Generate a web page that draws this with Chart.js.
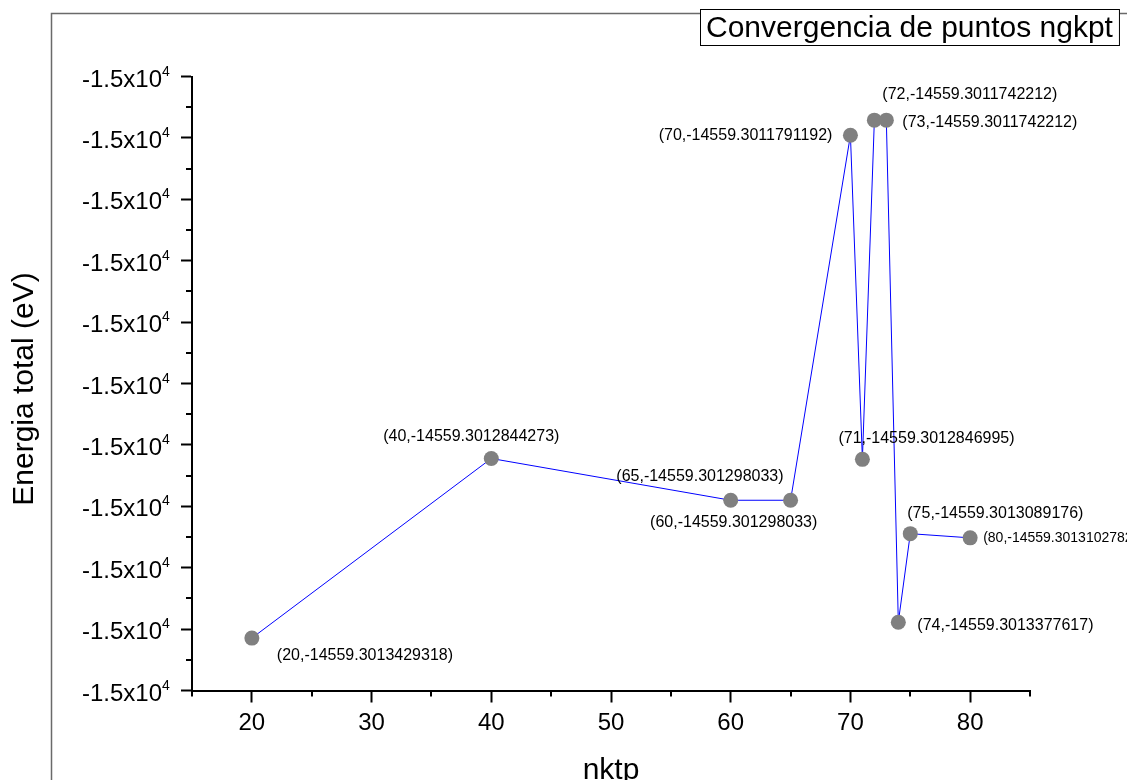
<!DOCTYPE html>
<html>
<head>
<meta charset="utf-8">
<script src="https://cdn.jsdelivr.net/npm/chart.js@4.4.1/dist/chart.umd.min.js"></script>
<style>
  html, body { margin: 0; padding: 0; background: #fff; }
</style>
</head>
<body>
<canvas id="chart" width="1127" height="780"></canvas>
<script>
// nkpt en el eje x, energía total (eV) en el eje y
const nkpt = [20, 40, 60, 65, 70, 71, 72, 73, 74, 75, 80]
const energy = [
  -14559.3013429318,
  -14559.3012844273,
  -14559.301298033,
  -14559.301298033,
  -14559.3011791192,
  -14559.3012846995,
  -14559.3011742212,
  -14559.3011742212,
  -14559.3013377617,
  -14559.3013089176,
  -14559.3013102782
]
const xTicks = [20, 30, 40, 50, 60, 70, 80]
const yTicks = [
  -14559.30136, -14559.30134, -14559.30132, -14559.30130, -14559.30128, -14559.30126,
  -14559.30124, -14559.30122, -14559.30120, -14559.30118, -14559.30116
]
const titleText = 'Convergencia de puntos ngkpt'
const xTitle = 'nktp'
const yTitle = 'Energia total (eV)'

const FONT = '"Liberation Sans", Arial, sans-serif'

// donde va cada etiqueta (x,E) respecto a su punto: [dx, dy, align]
const labelPlace = [
  [25, 17, 'left'],
  [-20, -22, 'center'],
  [3, 22, 'center'],
  [-7, -24, 'right'],
  [-18, 0, 'right'],
  [-24, -21, 'left'],
  [8, -26, 'left'],
  [16, 2, 'left'],
  [19, 3, 'left'],
  [-3, -20, 'left'],
  [13, 0, 'left']
]

const decorations = {
  id: 'decorations',
  afterDraw(chart) {
    const ctx = chart.ctx
    const xs = chart.scales.x
    const ys = chart.scales.y
    const area = chart.chartArea
    ctx.save()

    // marco exterior
    ctx.strokeStyle = '#6a6a6a'
    ctx.lineWidth = 1.5
    ctx.beginPath()
    ctx.moveTo(51.5, 780)
    ctx.lineTo(51.5, 13.5)
    ctx.lineTo(1127, 13.5)
    ctx.stroke()

    // ticks menores
    ctx.strokeStyle = '#000'
    ctx.lineWidth = 2
    ctx.beginPath()
    for (let i = 0; i <= xTicks.length; i++) {
      const v = (i === 0 ? xTicks[0] - 5 : xTicks[i - 1] + 5)
      const px = Math.round(xs.getPixelForValue(v))
      ctx.moveTo(px, area.bottom)
      ctx.lineTo(px, area.bottom + 6)
    }
    for (let i = 0; i < yTicks.length - 1; i++) {
      const py = Math.round(ys.getPixelForValue((yTicks[i] + yTicks[i + 1]) / 2))
      ctx.moveTo(area.left, py)
      ctx.lineTo(area.left - 6, py)
    }
    ctx.stroke()

    // etiquetas del eje y: -1.5x10^4
    ctx.fillStyle = '#000'
    ctx.textBaseline = 'alphabetic'
    yTicks.forEach(v => {
      const py = ys.getPixelForValue(v)
      const parts = v.toExponential(1).split('e')
      const exp = String(parseInt(parts[1], 10))
      ctx.font = '24px ' + FONT
      ctx.textAlign = 'right'
      ctx.fillText(parts[0] + 'x10', 162, py + 10)
      ctx.font = '14px ' + FONT
      ctx.textAlign = 'left'
      ctx.fillText(exp, 162, py - 1)
    })

    // títulos de ejes
    ctx.font = '30px ' + FONT
    ctx.textAlign = 'center'
    ctx.fillText(xTitle, (area.left + area.right) / 2, 779)
    ctx.save()
    ctx.translate(33, 389)
    ctx.rotate(-Math.PI / 2)
    ctx.fillText(yTitle, 0, 0)
    ctx.restore()

    // etiquetas de cada punto
    const meta = chart.getDatasetMeta(0)
    ctx.textBaseline = 'middle'
    meta.data.forEach((pt, i) => {
      const [dx, dy, align] = labelPlace[i]
      ctx.font = (i === meta.data.length - 1 ? '14px ' : '16px ') + FONT
      ctx.textAlign = align
      ctx.fillText('(' + nkpt[i] + ',' + energy[i] + ')', pt.x + dx, pt.y + dy)
    })

    // recuadro del título
    ctx.font = '30px ' + FONT
    ctx.textAlign = 'left'
    ctx.textBaseline = 'alphabetic'
    const w = ctx.measureText(titleText).width
    ctx.fillStyle = '#fff'
    ctx.fillRect(700.5, 9.5, w + 12, 36)
    ctx.strokeStyle = '#000'
    ctx.lineWidth = 1
    ctx.strokeRect(700.5, 9.5, w + 12, 36)
    ctx.fillStyle = '#000'
    ctx.fillText(titleText, 706, 37)

    ctx.restore()
  }
}

new Chart(document.getElementById('chart'), {
  type: 'line',
  data: {
    datasets: [{
      data: nkpt.map((x, i) => ({ x: x, y: energy[i] })),
      borderColor: '#0000ff',
      borderWidth: 1,
      tension: 0,
      fill: false,
      pointRadius: 7.5,
      pointBackgroundColor: '#808080',
      pointBorderWidth: 0
    }]
  },
  options: {
    responsive: false,
    animation: false,
    devicePixelRatio: 1,
    layout: {
      padding: { top: 76.5, right: 97, left: 0, bottom: 0 }
    },
    plugins: {
      legend: { display: false },
      tooltip: { enabled: false }
    },
    scales: {
      x: {
        type: 'linear',
        min: 15,
        max: 85,
        afterBuildTicks: scale => { scale.ticks = xTicks.map(v => ({ value: v })) },
        afterFit: scale => { scale.height = 89.5 },
        ticks: {
          autoSkip: false,
          maxRotation: 0,
          padding: 6,
          color: '#000',
          font: { size: 24, family: FONT }
        },
        grid: {
          drawOnChartArea: false,
          tickLength: 12,
          tickWidth: 2,
          tickColor: '#000'
        },
        border: { color: '#000', width: 2 }
      },
      y: {
        type: 'linear',
        min: yTicks[0],
        max: yTicks[yTicks.length - 1],
        afterBuildTicks: scale => { scale.ticks = yTicks.map(v => ({ value: v })) },
        afterFit: scale => { scale.width = 192 },
        ticks: { display: false },
        grid: {
          drawOnChartArea: false,
          tickLength: 11,
          tickWidth: 2,
          tickColor: '#000'
        },
        border: { color: '#000', width: 2 }
      }
    }
  },
  plugins: [decorations]
})
</script>
</body>
</html>
